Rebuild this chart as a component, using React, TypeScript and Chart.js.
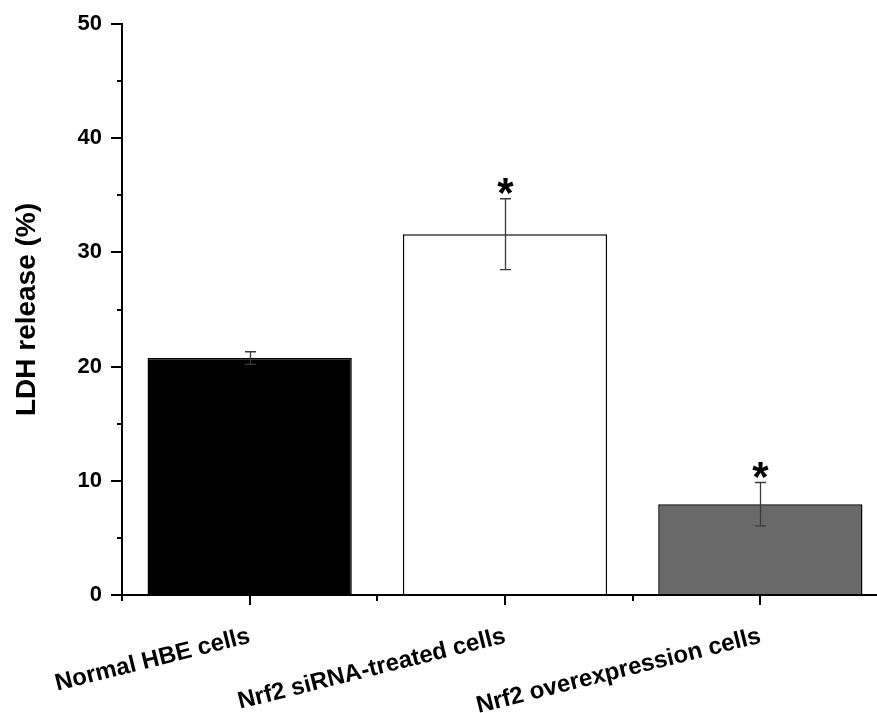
import React, { useEffect, useRef } from "react";
import { Chart, registerables } from "chart.js";

Chart.register(...registerables);

const categories = ["Normal HBE cells", "Nrf2 siRNA-treated cells", "Nrf2 overexpression cells"];
const values = [20.75, 31.6, 7.95];
const errors = [0.55, 3.1, 1.9];
const significant = [false, true, true];
const barColors = ["#000000", "#ffffff", "#696969"];
const yTicks = [0, 10, 20, 30, 40, 50];
const yMinorTicks = [5, 15, 25, 35, 45];
const yTitle = "LDH release (%)";

const FONT = "'Liberation Sans', Arial, Helvetica, sans-serif";

const extrasPlugin = {
  id: "extras",
  afterDatasetsDraw(chart: any) {
    const ctx = chart.ctx;
    const x = chart.scales.x;
    const y = chart.scales.y;
    const area = chart.chartArea;
    ctx.save();
    // y minor ticks
    ctx.strokeStyle = "#000";
    ctx.lineWidth = 2;
    yMinorTicks.forEach((v) => {
      const py = Math.round(y.getPixelForValue(v));
      ctx.beginPath();
      ctx.moveTo(area.left - 5, py);
      ctx.lineTo(area.left, py);
      ctx.stroke();
    });
    // x ticks
    const step = (area.right - area.left) / categories.length;
    categories.forEach((_, i) => {
      const px = Math.round(x.getPixelForValue(i));
      ctx.beginPath();
      ctx.moveTo(px, area.bottom);
      ctx.lineTo(px, area.bottom + 10);
      ctx.stroke();
    });
    for (let i = 0; i <= categories.length; i++) {
      const px = Math.round(area.left + i * step);
      ctx.beginPath();
      ctx.moveTo(px, area.bottom);
      ctx.lineTo(px, area.bottom + 6);
      ctx.stroke();
    }
    // error bars
    ctx.strokeStyle = "#3a3a3a";
    ctx.lineWidth = 1.3;
    values.forEach((v, i) => {
      const px = Math.round(x.getPixelForValue(i)) + 0.5;
      const top = y.getPixelForValue(v + errors[i]);
      const bot = y.getPixelForValue(v - errors[i]);
      ctx.beginPath();
      ctx.moveTo(px, top);
      ctx.lineTo(px, bot);
      ctx.moveTo(px - 5.5, top);
      ctx.lineTo(px + 5.5, top);
      ctx.moveTo(px - 5.5, bot);
      ctx.lineTo(px + 5.5, bot);
      ctx.stroke();
      if (significant[i]) {
        ctx.fillStyle = "#000";
        ctx.font = `bold 42px ${FONT}`;
        ctx.textAlign = "center";
        ctx.textBaseline = "alphabetic";
        const m = ctx.measureText("*");
        const asc = m.actualBoundingBoxAscent;
        const desc = m.actualBoundingBoxDescent;
        const center = top - 13;
        const base = center + (asc - desc) / 2;
        ctx.fillText("*", px, base);
      }
    });
    ctx.restore();
  },
};

export default function App() {
  const ref = useRef<HTMLCanvasElement>(null);
  useEffect(() => {
    const canvas = ref.current!;
    const chart = new Chart(canvas, {
      type: "bar",
      data: {
        labels: categories,
        datasets: [
          {
            data: values,
            backgroundColor: barColors,
            borderColor: "#000",
            borderWidth: 1.5,
            categoryPercentage: 1,
            barPercentage: 0.8,
          },
        ],
      },
      options: {
        responsive: false,
        animation: false,
        devicePixelRatio: 1,
        layout: { padding: { top: 24, right: 4, left: 0, bottom: 0 } },
        plugins: { legend: { display: false }, tooltip: { enabled: false } },
        scales: {
          x: {
            offset: true,
            grid: { display: false },
            border: { display: true, color: "#000", width: 2 },
            ticks: {
              color: "#000",
              font: { family: FONT, size: 24, weight: "bold" },
              padding: 19,
              minRotation: 14,
              maxRotation: 14,
              autoSkip: false,
            },
            afterFit: (s: any) => {
              s.height = 118;
            },
          },
          y: {
            min: 0,
            max: 50,
            ticks: {
              stepSize: 10,
              color: "#000",
              font: { family: FONT, size: 22, weight: "bold" },
              padding: 9,
              callback: (v: any) => (yTicks.includes(v) ? String(v) : ""),
            },
            grid: {
              display: true,
              drawOnChartArea: false,
              drawTicks: true,
              tickLength: 11,
              color: "#000",
              lineWidth: 2,
            },
            border: { display: true, color: "#000", width: 2 },
            title: {
              display: true,
              text: yTitle,
              color: "#000",
              font: { family: FONT, size: 28, weight: "bold" },
              padding: { top: 10, bottom: 0 },
            },
            afterFit: (s: any) => {
              s.width = 122;
            },
          },
        },
      },
      plugins: [extrasPlugin],
    });
    return () => chart.destroy();
  }, []);
  return (
    <div style={{ position: "fixed", left: 0, top: 0, width: 877, height: 713, overflow: "hidden", background: "#fff" }}>
      <canvas ref={ref} width={892} height={713} style={{ width: 892, height: 713, display: "block" }} />
    </div>
  );
}
